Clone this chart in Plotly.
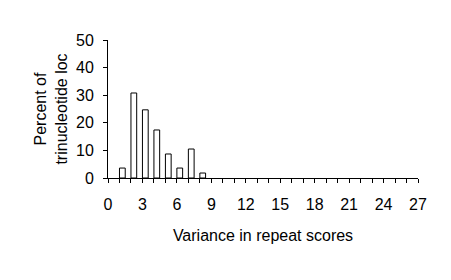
import plotly.graph_objects as go

variance = [1, 2, 3, 4, 5, 6, 7, 8]
percent = [3.6, 30.8, 24.7, 17.4, 8.7, 3.6, 10.5, 1.8]

x_title = "Variance in repeat scores"
y_title = "Percent of<br>trinucleotide loc"

font = dict(family="Liberation Sans, Arial, sans-serif", size=16, color="black")

fig = go.Figure()
fig.add_trace(go.Bar(
    x=variance, y=percent, offset=0, width=0.5,
    marker=dict(color="white", line=dict(color="black", width=1)),
))

fig.update_layout(
    width=451, height=280,
    margin=dict(l=108, r=33, t=40, b=102),
    paper_bgcolor="white", plot_bgcolor="white",
    font=font, showlegend=False,
    xaxis=dict(
        range=[0, 27], tickmode="linear", tick0=0, dtick=3,
        ticks="outside", ticklen=4, tickcolor="black", tickwidth=1,
        minor=dict(dtick=1, tick0=0, ticks="outside", ticklen=4, tickcolor="black", tickwidth=1),
        showline=True, linecolor="black", linewidth=1,
        showgrid=False, zeroline=False,
        ticklabelstandoff=8,
        title=dict(text=x_title, standoff=17, font=font),
    ),
    yaxis=dict(
        range=[0, 50], tickmode="linear", tick0=0, dtick=10,
        ticks="outside", ticklen=4, tickcolor="black", tickwidth=1,
        showline=True, linecolor="black", linewidth=1,
        showgrid=False, zeroline=False,
        ticklabelstandoff=6,
        title=dict(text=y_title, standoff=4, font=font),
    ),
)

fig.write_html("out.html")
